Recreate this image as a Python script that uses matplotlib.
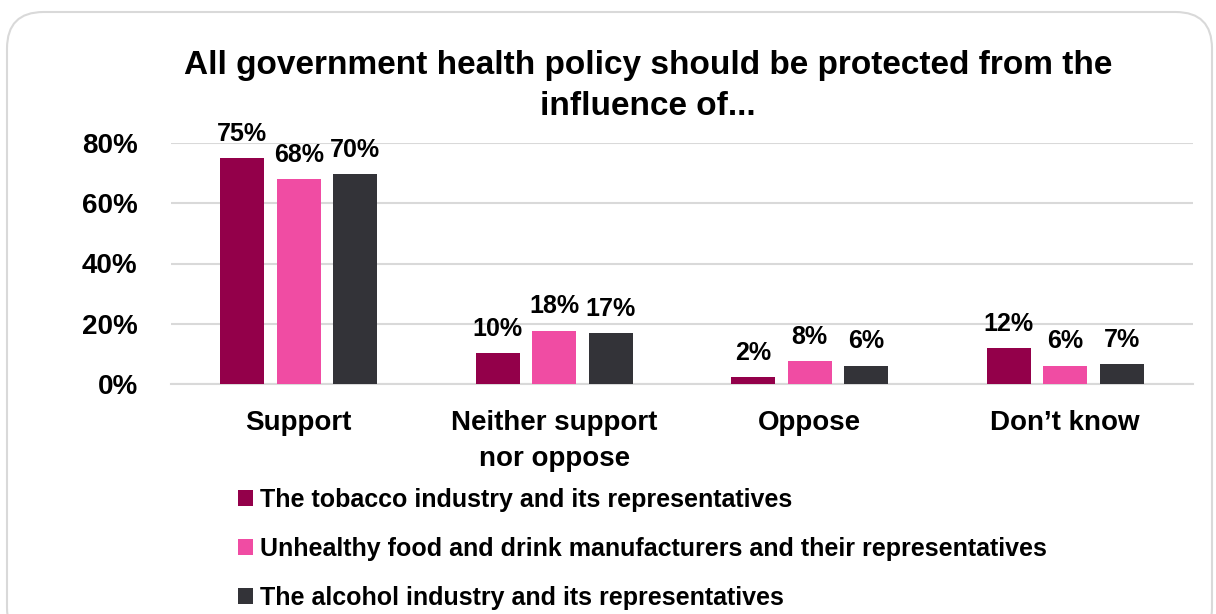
import matplotlib
matplotlib.use("Agg")
import matplotlib.pyplot as plt
from matplotlib.patches import FancyBboxPatch
import numpy as np

plt.rcParams['font.family'] = ['Liberation Sans', 'DejaVu Sans']

title = "All government health policy should be protected from the\ninfluence of..."
categories = ["Support", "Neither support\nnor oppose", "Oppose", "Don\u2019t know"]
series_names = [
    "The tobacco industry and its representatives",
    "Unhealthy food and drink manufacturers and their representatives",
    "The alcohol industry and its representatives",
]
tobacco = [75.0, 10.2, 2.2, 11.9]
food = [68.0, 17.6, 7.6, 6.1]
alcohol = [69.7, 16.9, 6.1, 6.6]
colors = ["#93004A", "#F04CA3", "#333338"]
yticks = [0, 20, 40, 60, 80]

W, H = 1216, 614
fig = plt.figure(figsize=(W / 100, H / 100), dpi=100)

# rounded border
border = FancyBboxPatch((7 / W, -30 / H), (1205) / W, (614 - 12 + 30) / H,
                        boxstyle="round,pad=0,rounding_size=0.03",
                        transform=fig.transFigure, facecolor="none",
                        edgecolor="#D9D9D9", linewidth=1.5, mutation_aspect=W / H,
                        zorder=-1)
fig.patches.append(border)

ax = fig.add_axes([171 / W, 1 - 384 / H, (1193 - 171) / W, (384 - 143) / H])
ax.set_facecolor("none")

x = np.arange(len(categories))
bw = 0.172
step = 0.221
for i, (vals, col) in enumerate(zip([tobacco, food, alcohol], colors)):
    bars = ax.bar(x + (i - 1) * step, vals, width=bw, color=col, label=series_names[i],
                  zorder=3)
    for b, v in zip(bars, vals):
        ax.annotate(f"{v:.0f}%", (b.get_x() + b.get_width() / 2, b.get_height()),
                    xytext=(0, 9), textcoords="offset points", ha="center", va="bottom",
                    fontsize=18, fontweight="bold", color="black", zorder=4,
                    annotation_clip=False)

ax.set_xlim(-0.5, len(categories) - 0.5)
ax.set_ylim(0, 80)
ax.set_yticks(yticks)
ax.set_yticklabels([f"{t}%" for t in yticks], fontsize=20, fontweight="bold")
ax.set_xticks(x)
ax.set_xticklabels(categories, fontsize=20, fontweight="bold", linespacing=1.5)
ax.tick_params(axis="both", length=0)
ax.tick_params(axis="y", pad=24)
ax.tick_params(axis="x", pad=18.5)
ax.grid(axis="y", color="#D9D9D9", linewidth=1.5, zorder=0)
for s in ["top", "right", "left"]:
    ax.spines[s].set_visible(False)
ax.spines["bottom"].set_color("#D9D9D9")
ax.spines["bottom"].set_linewidth(1.5)

fig.text(648 / W, 1 - 86 / H, title, ha="center", va="center", fontsize=24,
         fontweight="bold", linespacing=1.45)

leg = fig.legend(loc="upper left", bbox_to_anchor=(228 / W, 1 - 478 / H),
                 frameon=False, ncol=1, prop={"size": 18, "weight": "bold"},
                 handlelength=0.6, handleheight=0.6, handletextpad=0.3,
                 labelspacing=1.0, borderaxespad=0)

fig.savefig("out.png", dpi=100)
